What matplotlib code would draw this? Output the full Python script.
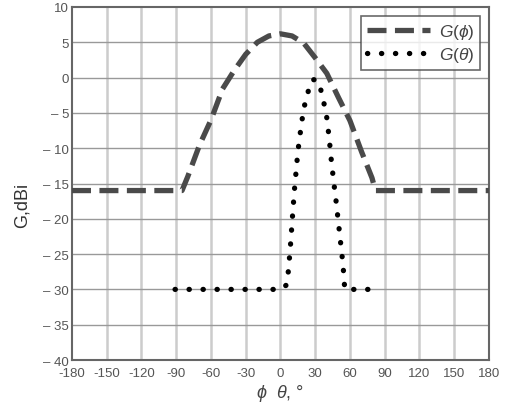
import numpy as np
import matplotlib.pyplot as plt

plt.rcParams['font.family'] = ['Liberation Sans', 'DejaVu Sans']
plt.rcParams['mathtext.fontset'] = 'custom'
plt.rcParams['mathtext.it'] = 'Liberation Sans:italic'
plt.rcParams['mathtext.rm'] = 'Liberation Sans'

# G(phi), dashed curve
phi = [-180, -85, -80, -70, -60, -50, -40, -30, -20, -10, 0, 10, 20, 30, 40, 50, 60, 70, 79, 82, 180]
g_phi = [-16, -16, -14, -9.6, -6.0, -1.6, 1.0, 3.3, 5.0, 5.9, 6.2, 5.9, 4.9, 2.8, 0.6, -2.8, -6.1, -10.5, -14.2, -16, -16]

# G(theta), dotted curve
theta = [-91, 0, 5, 7, 8, 9, 10, 12, 15, 18, 20, 23, 27.5, 31, 34.5, 37.5, 40, 42, 44, 46, 48, 50, 52, 54, 55.5, 83]
g_theta = [-30, -30, -29.4, -27.2, -25, -23, -20.5, -16, -10.5, -6.7, -4.5, -2.4, -0.3, -0.3, -1.5, -3.6, -5.7, -8.5, -11.9, -14.8, -17.5, -20.5, -23.5, -26.5, -30, -30]

xticks = np.arange(-180, 181, 30)
yticks = np.arange(-40, 11, 5)

fig = plt.figure(figsize=(5.12, 4.10), dpi=100)
ax = fig.add_axes([0.1406, 0.1195, 0.8144, 0.8610])

ax.plot(phi, g_phi, color='#4a4a4a', linewidth=3.8, linestyle=(0, (3.6, 1.6)),
        dash_capstyle='butt', solid_joinstyle='round', label=r'$G(\phi)$', zorder=3)
ax.plot(theta, g_theta, color='black', linewidth=3.8, linestyle=(0, (0.05, 2.6)),
        dash_capstyle='round', label=r'$G(\theta)$', zorder=3)

ax.set_xlim(-180, 180)
ax.set_ylim(-40, 10)
ax.set_xticks(xticks)
ax.set_yticks(yticks)
ax.set_xticklabels([str(v) for v in xticks])
ax.set_yticklabels([('\u2013 ' + str(-v)) if v < 0 else str(v) for v in yticks])
ax.tick_params(length=0, labelsize=9.5, labelcolor='#555555')
ax.tick_params(axis='x', pad=5)
ax.tick_params(axis='y', pad=2)

for x in xticks[1:-1]:
    ax.axvline(x, color='#cccccc', linewidth=1.8, zorder=1)
for y in yticks[1:-1]:
    ax.axhline(y, color='#999999', linewidth=1.0, zorder=1)

for s in ax.spines.values():
    s.set_color('#666666')
    s.set_linewidth(1.5)

ax.set_ylabel('G,dBi', fontsize=13, color='#333333', labelpad=8)
ax.yaxis.set_label_coords(-0.1, 0.44)
ax.set_xlabel(r'$\phi$  $\theta$, °', fontsize=13, color='#444444', labelpad=2)

leg = ax.legend(loc='upper right', fontsize=12.5, frameon=True, fancybox=False,
                edgecolor='#444444', handlelength=3.6, borderaxespad=0.5,
                borderpad=0.35, labelspacing=0.25, handletextpad=0.5)
leg.get_frame().set_linewidth(1.2)
for t in leg.get_texts():
    t.set_color('#444444')

fig.savefig('out.png', dpi=100)
